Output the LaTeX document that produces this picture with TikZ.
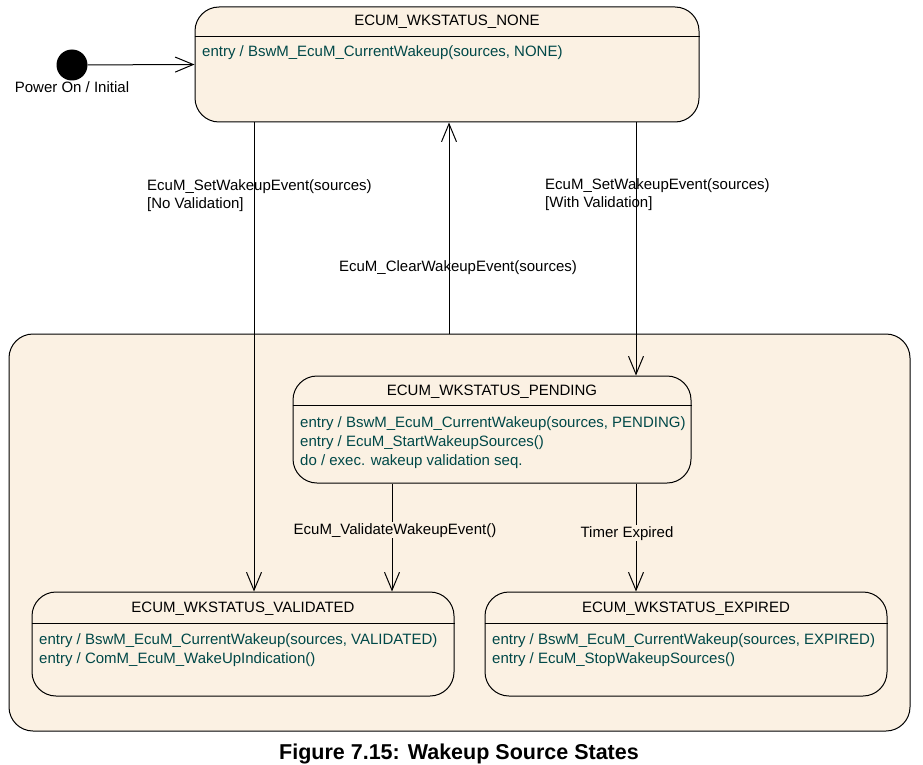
\documentclass[tikz,border=0pt]{standalone}
\usepackage{fontspec}
\setmainfont{Liberation Sans}
\usetikzlibrary{arrows.meta}
\definecolor{stfill}{RGB}{251,241,227}
\definecolor{acttext}{RGB}{0,72,72}

\begin{document}
\begin{tikzpicture}[x=1pt,y=-1pt,
		every node/.style={inner sep=0pt,font=\fontsize{15}{19}\selectfont},
		state/.style={draw,line width=1pt,fill=stfill,rounded corners=24pt},
		title/.style={anchor=base},
		act/.style={anchor=base west,text=acttext},
		trig/.style={anchor=base west},
		inlbl/.style={anchor=base,fill=stfill,inner sep=1pt},
		arr/.style={line width=1pt,-{Straight Barb[length=18pt,width=15pt]}}]
			\useasboundingbox (0,0) rectangle (923,765);
			\node [state,minimum width=901,minimum height=397] (wakeup) at (459.5,532.5) {};
			\node [state,minimum width=504,minimum height=115] (none) at (447,64.5) {};
			\node [state,minimum width=398,minimum height=107] (pending) at (492,429.5) {};
			\node [state,minimum width=422,minimum height=104] (validated) at (243,644) {};
			\node [state,minimum width=402,minimum height=104] (expired) at (686,644) {};
			\node [circle,fill=black,minimum size=31] (init) at (72,65) {};
			\node [anchor=base] (initlbl) at (72,93) {Power On / Initial};
			\draw [line width=1pt] (none.west |- 0,37) -- (none.east |- 0,37);
			\draw [line width=1pt] (pending.west |- 0,405) -- (pending.east |- 0,405);
			\draw [line width=1pt] (validated.west |- 0,623) -- (validated.east |- 0,623);
			\draw [line width=1pt] (expired.west |- 0,623) -- (expired.east |- 0,623);
			\node [title] (nonet) at (447,26) {ECUM\_WKSTATUS\_NONE};
			\node [act] (nonee) at (202,57) {entry / BswM\_EcuM\_CurrentWakeup(sources, NONE)};
			\node [title] (pendingt) at (492,395) {ECUM\_WKSTATUS\_PENDING};
			\node [act] (pendinga) at (300,427) {entry / BswM\_EcuM\_CurrentWakeup(sources, PENDING)};
			\node [act] (pendingb) at (300,446) {entry / EcuM\_StartWakeupSources()};
			\node [act] (pendingc) at (300,465) {do / exec. wakeup validation seq.};
			\node [title] (validatedt) at (243,612) {ECUM\_WKSTATUS\_VALIDATED};
			\node [act] (validateda) at (39,644) {entry / BswM\_EcuM\_CurrentWakeup(sources, VALIDATED)};
			\node [act] (validatedb) at (39,663) {entry / ComM\_EcuM\_WakeUpIndication()};
			\node [title] (expiredt) at (686,612) {ECUM\_WKSTATUS\_EXPIRED};
			\node [act] (expireda) at (492,644) {entry / BswM\_EcuM\_CurrentWakeup(sources, EXPIRED)};
			\node [act] (expiredb) at (492,663) {entry / EcuM\_StopWakeupSources()};
			\draw [arr] (init) -- (none.west);
			\draw [arr] (none.south -| 254,0) -- (validated.north -| 254,0);
			\draw [arr] (wakeup.north -| 449,0) -- (none.south -| 449,0);
			\draw [arr] (none.south -| 636,0) -- (pending.north -| 636,0);
			\draw [arr] (pending.south -| 392,0) -- (validated.north -| 392,0);
			\draw [arr] (pending.south -| 636,0) -- (expired.north -| 636,0);
			\node [trig] (novalid) at (147,190) {EcuM\_SetWakeupEvent(sources)};
			\node [trig] (novalidb) at (147,208) {[No Validation]};
			\node [trig] (withvalid) at (545,189) {EcuM\_SetWakeupEvent(sources)};
			\node [trig] (withvalidb) at (545,207) {[With Validation]};
			\node [anchor=base] (clear) at (458,271) {EcuM\_ClearWakeupEvent(sources)};
			\node [inlbl] (validate) at (395,534) {EcuM\_ValidateWakeupEvent()};
			\node [inlbl] (timer) at (627,537) {Timer Expired};
			\node [anchor=base,font=\fontsize{21.5}{25}\selectfont\bfseries] (caption) at (459,759) {Figure 7.15: Wakeup Source States};
			\end{tikzpicture}
\end{document}
